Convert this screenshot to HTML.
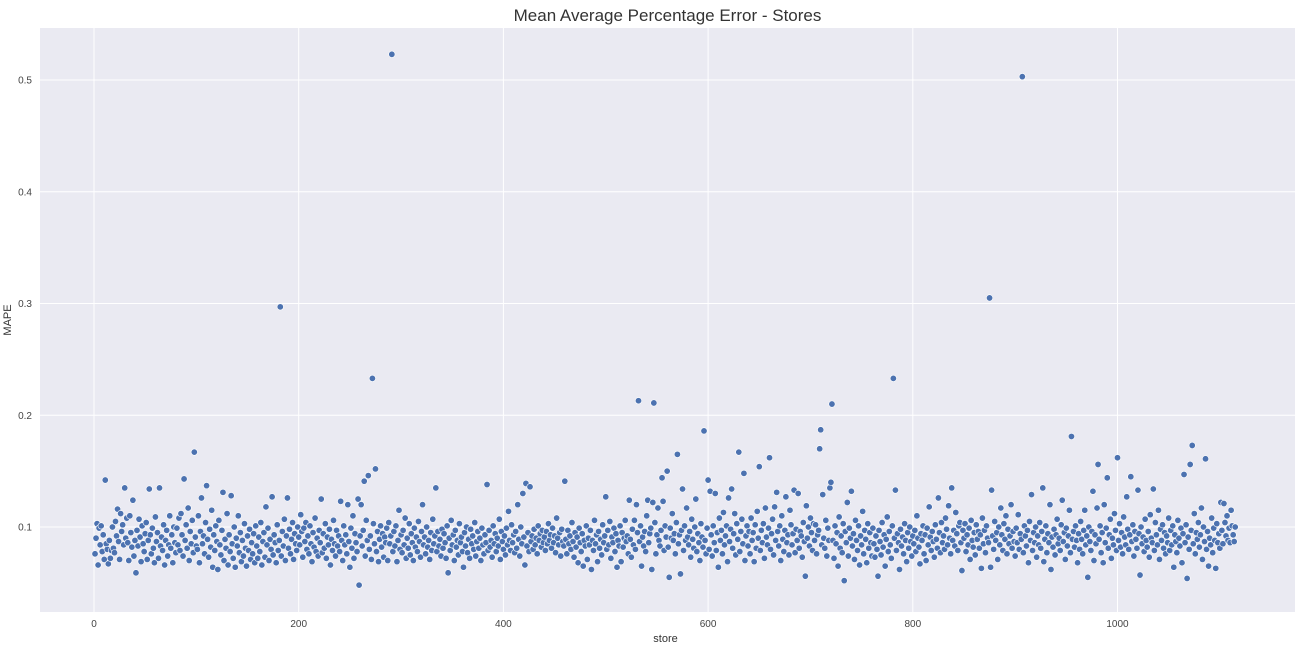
<!DOCTYPE html>
<html><head><meta charset="utf-8"><style>
body{margin:0;background:#fff;width:1302px;height:648px;overflow:hidden;font-family:"Liberation Sans",sans-serif}
svg text{font-family:"Liberation Sans",sans-serif}
</style></head><body>
<svg id="chart" width="1302" height="648" xmlns="http://www.w3.org/2000/svg"></svg>
<script>
// MAPE values in thousandths, stores 1..N
const mapeMilli = [
76,90,103,66,99,84,101,78,93,71,142,85,80,67,88,72,79,100,81,77,
105,92,116,87,71,112,96,102,84,135,90,108,86,70,110,95,82,124,74,88,
59,97,83,107,91,69,101,85,78,94,104,71,88,134,93,76,99,81,68,109,
87,95,72,135,83,91,79,102,66,88,97,74,84,110,81,93,68,100,86,77,
99,84,108,79,112,93,74,143,88,102,81,117,70,96,85,106,77,167,91,83,
80,110,68,96,126,85,92,76,104,137,89,73,98,82,115,64,93,79,101,87,
62,106,84,75,97,131,70,89,81,112,66,93,78,128,85,72,100,64,90,83,
110,77,95,69,88,74,103,81,65,92,79,98,71,86,76,94,68,101,83,72,
91,78,104,66,87,95,73,118,84,99,70,89,80,127,75,93,86,68,102,79,
88,297,74,96,83,107,70,92,126,81,98,76,89,104,71,94,85,79,100,91,
84,111,96,73,99,87,104,80,92,76,101,85,69,95,82,108,78,90,74,97,
86,125,77,94,81,103,72,91,84,98,66,89,79,106,85,74,97,83,92,78,
123,88,70,101,84,93,76,120,87,64,99,81,110,72,94,86,78,125,48,92,
120,83,97,141,74,106,88,146,80,92,71,233,103,85,152,78,96,69,89,101,
82,94,73,91,86,99,70,104,85,92,523,78,96,83,101,69,88,115,80,93,
77,97,84,108,72,90,81,103,75,94,86,70,99,82,91,78,105,87,73,96,
120,84,91,76,100,82,88,71,95,79,107,85,92,135,78,96,83,89,74,98,
81,94,86,72,101,59,90,79,106,84,93,70,97,82,88,75,103,86,91,78,
64,95,83,100,77,89,72,98,85,92,80,104,74,87,96,81,90,70,99,84,
76,93,86,138,79,97,82,88,73,101,85,94,78,90,83,107,71,96,87,80,
92,75,99,84,114,88,79,102,86,93,77,96,81,120,89,74,100,85,130,91,
66,139,83,95,78,136,87,92,80,98,84,90,76,101,88,94,82,97,86,91,
79,96,85,103,88,93,81,99,86,92,77,108,90,84,95,74,98,87,83,141,
89,76,97,85,92,80,104,87,73,95,82,91,68,99,86,78,94,65,88,83,
101,71,90,84,97,62,88,79,106,85,93,69,96,81,89,75,102,86,92,127,
80,97,84,105,72,91,86,99,78,94,64,88,83,101,69,95,82,90,106,87,
92,76,124,89,73,98,84,106,80,120,95,213,87,101,65,91,83,96,78,110,
124,86,94,99,62,122,211,104,76,93,117,88,83,97,144,123,79,101,91,150,
82,55,99,90,112,88,94,76,104,165,85,93,58,97,134,79,101,88,117,91,
84,96,73,107,89,81,100,125,78,94,86,70,103,91,82,186,88,76,99,142,
80,132,93,74,101,86,130,79,95,64,108,88,97,76,113,84,92,101,69,126,
87,98,134,81,94,112,75,103,89,167,78,96,107,85,148,70,92,101,83,96,
76,108,88,95,69,102,81,114,90,154,79,97,86,103,72,117,91,84,99,162,
80,94,107,75,118,88,131,96,83,101,70,110,89,78,97,127,86,93,75,115,
102,84,94,133,77,98,88,130,81,96,92,73,104,87,56,119,90,100,83,108,
95,79,103,88,102,76,93,97,170,187,84,129,90,81,106,74,99,88,135,140,
210,88,72,101,85,95,65,109,81,92,77,103,52,96,86,122,74,99,90,132,
83,94,71,106,88,79,101,66,92,84,114,76,97,89,68,103,81,95,86,74,
99,85,73,92,80,56,97,87,75,104,82,93,65,89,109,78,96,84,72,101,
233,90,133,79,94,86,62,98,83,91,76,103,88,69,95,81,100,87,74,92,
85,97,78,110,90,82,67,94,88,101,76,93,70,99,84,118,91,79,96,87,
73,102,89,81,126,95,77,104,86,92,80,108,98,84,119,90,76,135,88,97,
83,113,94,79,101,104,86,61,97,90,103,78,93,84,99,71,106,88,82,95,
75,102,89,96,81,93,63,108,85,97,77,101,90,86,305,64,133,92,80,105,
88,95,71,100,84,117,93,79,103,89,110,76,98,85,92,120,81,96,87,74,
99,86,111,80,94,89,503,77,101,92,83,97,68,105,88,129,79,95,86,100,
73,92,84,104,81,96,135,69,89,101,77,94,86,120,62,91,82,98,75,93,
107,85,90,79,102,124,87,95,71,99,83,92,115,77,181,89,96,82,101,88,
68,94,80,105,89,76,97,115,84,92,55,100,87,79,96,132,70,93,85,117,
156,89,101,77,95,68,120,86,99,144,81,93,107,72,90,84,112,97,79,162,
88,103,82,95,76,109,91,84,127,98,80,93,145,87,102,74,96,89,81,133,
94,57,100,85,91,78,107,88,82,96,73,111,90,86,134,79,104,93,84,115,
71,98,88,102,81,95,76,92,86,108,79,97,84,101,64,93,87,77,106,90,
83,99,68,94,147,86,102,54,91,80,156,97,173,85,112,76,95,89,104,82,
93,117,71,100,87,161,80,96,65,90,84,108,77,99,88,63,103,86,94,81,
122,97,85,121,104,92,110,88,99,86,115,101,93,87,100
];
const xTicks = [0,200,400,600,800,1000];
const yTicks = [0.1,0.2,0.3,0.4,0.5];

const NS="http://www.w3.org/2000/svg";
const svg=document.getElementById('chart');
const PL=40,PR=1295,PT=28,PB=612;
const xS=v=>94+v*1.0235;
const yS=v=>638.75-v*1117.5;
function mk(t,a){const e=document.createElementNS(NS,t);for(const k in a)e.setAttribute(k,a[k]);svg.appendChild(e);return e;}

const bg=mk('rect',{x:PL,y:PT,width:PR-PL,height:PB-PT,fill:'#eaeaf2'});



yTicks.forEach(t=>{
  const y=yS(t);
  const g=mk('line',{x1:PL,x2:PR,y1:y,y2:y,stroke:'#fff','stroke-width':1});
  
  
  const l=mk('text',{x:PL-8,y:y+3.5,'text-anchor':'end','font-size':10,fill:'#444'});
  l.textContent=t.toFixed(1);
  
  
});
xTicks.forEach(t=>{
  const x=xS(t);
  const g=mk('line',{x1:x,x2:x,y1:PT,y2:PB,stroke:'#fff','stroke-width':1});
  
  
  const l=mk('text',{x:x,y:PB+15,'text-anchor':'middle','font-size':10,fill:'#444'});
  l.textContent=t;
  
  
});

mapeMilli.forEach((v,i)=>{
  const c=mk('circle',{cx:xS(i+1),cy:yS(v/1000),r:3.2,fill:'#4c72b0',stroke:'#fff','stroke-width':0.6});
  
  
});

const ti=mk('text',{x:(PL+PR)/2,y:21,'text-anchor':'middle','font-size':17,fill:'#333'});
ti.textContent='Mean Average Percentage Error - Stores';


const xl=mk('text',{x:(PL+PR)/2-2,y:642,'text-anchor':'middle','font-size':11,fill:'#333'});
xl.textContent='store';


const yl=mk('text',{x:0,y:0,'text-anchor':'middle','font-size':11,fill:'#333',transform:'translate(11,320) rotate(-90)'});
yl.textContent='MAPE';


</script>
</body></html>
